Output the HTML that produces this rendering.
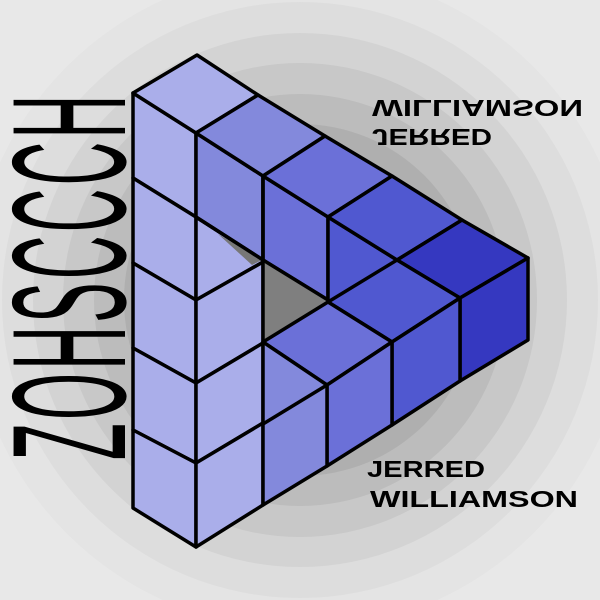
<!DOCTYPE html>
<html><head><meta charset="utf-8"><style>html,body{margin:0;padding:0;width:600px;height:600px;overflow:hidden;background:#e8e8e8}</style></head>
<body>
<svg width="600" height="600" viewBox="0 0 600 600" xmlns="http://www.w3.org/2000/svg">
<rect width="600" height="600" fill="#e8e8e8"/>
<circle cx="300" cy="300" r="330" fill="#e4e4e4"/>
<circle cx="300" cy="300" r="298" fill="#dddddd"/>
<circle cx="300" cy="300" r="267" fill="#d3d3d3"/>
<circle cx="300" cy="300" r="237" fill="#c8c8c8"/>
<circle cx="300" cy="300" r="206" fill="#bcbcbc"/>
<circle cx="300" cy="300" r="176" fill="#afafaf"/>
<circle cx="300" cy="300" r="146" fill="#a2a2a2"/>
<circle cx="300" cy="300" r="116" fill="#959595"/>
<circle cx="300" cy="300" r="86" fill="#888888"/>

<g stroke="#000" stroke-width="3.5" stroke-linejoin="round">
<polygon fill="#aaaeea" points="133,93 196,133 196,217 133,178"/>
<polygon fill="#aaaeea" points="133,178 196,217 196,300 133,263"/>
<polygon fill="#aaaeea" points="133,263 196,300 196,383 133,348"/>
<polygon fill="#aaaeea" points="133,348 196,383 196,463 133,430"/>
<polygon fill="#aaaeea" points="133,430 196,463 196,547 133,508"/>
<polygon fill="#aaaeea" points="196,217 263,260 263,262 196,300"/>
<polygon fill="#aaaeea" points="196,300 263,262 263,343 196,383"/>
<polygon fill="#aaaeea" points="196,383 263,343 263,423 196,463"/>
<polygon fill="#aaaeea" points="196,463 263,423 263,505 196,547"/>
<polygon fill="#aaaeea" points="197,55 258,95 196,133 133,93"/>
<polygon fill="#8389dc" points="196,133 263,176 263,260 196,217"/>
<polygon fill="#8389dc" points="258,95 325,136 263,176 196,133"/>
<polygon fill="#6b70d8" points="263,176 328,217 328,300 263,260"/>
<polygon fill="#6b70d8" points="325,136 392,176 328,217 263,176"/>
<polygon fill="#5058d0" points="328,217 397,260 397,343 328,300"/>
<polygon fill="#5058d0" points="392,176 462,220 397,260 328,217"/>
<polygon fill="#3538c0" points="462,220 528,258 460,298 397,260"/>
</g>
<polygon fill="#7f7f7f" points="263,261 328,301 263,342"/>
<polygon fill="#777" points="218,234 262,260 252,265"/>
<g stroke="#000" stroke-width="3.5" stroke-linejoin="round">
<line x1="196" y1="217" x2="263" y2="260"/>
<line x1="263" y1="260" x2="328" y2="300"/>
<line x1="263" y1="176" x2="263" y2="342"/>
<polygon fill="#3538c0" points="460,298 528,258 528,340 460,381"/>
<polygon fill="#5058d0" points="397,260 460,298 392,342 328,302"/>
<polygon fill="#5058d0" points="392,342 460,298 460,381 392,425"/>
<polygon fill="#6b70d8" points="328,302 392,342 327,385 263,342"/>
<polygon fill="#6b70d8" points="327,385 392,342 392,425 327,466"/>
<polygon fill="#8389dc" points="263,342 327,385 327,466 263,505"/>
<line x1="263" y1="424" x2="327" y2="385"/>
</g>

<g font-family="'Liberation Sans', sans-serif" font-weight="bold" fill="#000">
<text x="367" y="477" font-size="23" textLength="118" lengthAdjust="spacingAndGlyphs">JERRED</text>
<text x="370" y="507" font-size="23" textLength="208" lengthAdjust="spacingAndGlyphs">WILLIAMSON</text>
<text transform="translate(0,100) scale(1,-1)" x="372" y="0" font-size="23" textLength="211" lengthAdjust="spacingAndGlyphs">WILLIAMSON</text>
<text transform="translate(0,129) scale(1,-1)" x="372" y="0" font-size="23" textLength="120" lengthAdjust="spacingAndGlyphs">JERRED</text>
</g>
<text transform="translate(125,460) rotate(-90) scale(1,2.7)" x="0" y="0" font-family="'Liberation Sans', sans-serif" font-size="60" textLength="365" lengthAdjust="spacing" fill="#000">ZOHSCCCH</text>
</svg>
</body></html>
